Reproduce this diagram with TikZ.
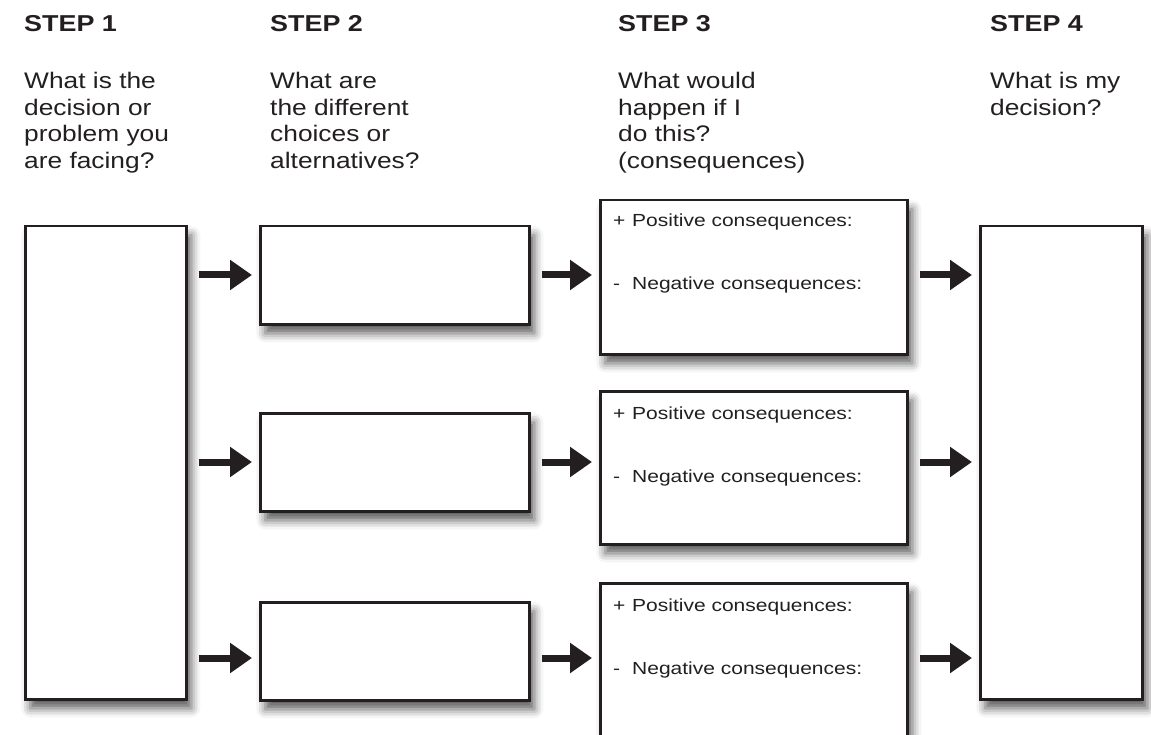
\documentclass[tikz,border=0pt]{standalone}
\usepackage{fontspec}
\setmainfont{Liberation Sans}
\newfontfamily\sheetfont[FakeStretch=1.17]{Liberation Sans}
\newfontfamily\notefont[FakeStretch=1.2]{Liberation Sans}
\usetikzlibrary{arrows.meta,positioning,shadows.blur}
\definecolor{ink}{HTML}{231F20}
\tikzset{
  dm/heading/.style={anchor=base west, inner sep=0pt, text=ink, font=\sheetfont\fontsize{23}{27}\selectfont\bfseries},
  dm/question/.style={inner sep=0pt, align=left, text=ink, font=\sheetfont\fontsize{22.5}{26.5}\selectfont},
  dm/box/.style={draw=ink, line width=2.5pt, fill=white, anchor=north west, inner sep=0pt,
    blur shadow={shadow xshift=5pt, shadow yshift=-9pt, shadow blur radius=9pt, shadow opacity=65}},
  dm/note/.style={anchor=base west, inner sep=0pt, text=ink, font=\notefont\fontsize{17.5}{21}\selectfont},
  dm/flow/.style={draw=ink, line width=7pt, -{Triangle[length=22pt, width=29pt]}, shorten <=11pt, shorten >=7pt}
}
\newcommand{\sign}[1]{\makebox[19pt][l]{#1}}

\begin{document}
\begin{tikzpicture}[x=1pt, y=-1pt]
  \useasboundingbox (0,0) rectangle (1151,735);

  % headings and questions
  \node[dm/heading] (st1) at (24,32) {STEP 1};
  \node[dm/heading] (st2) at (270,32) {STEP 2};
  \node[dm/heading] (st3) at (618,32) {STEP 3};
  \node[dm/heading] (st4) at (990,32) {STEP 4};
  \node[dm/question, below=40pt of st1.base west, anchor=north west] (q1) {What is the\\decision or\\problem you\\are facing?};
  \node[dm/question, below=40pt of st2.base west, anchor=north west] (q2) {What are\\the different\\choices or\\alternatives?};
  \node[dm/question, below=40pt of st3.base west, anchor=north west] (q3) {What would\\happen if I\\do this?\\(consequences)};
  \node[dm/question, below=40pt of st4.base west, anchor=north west] (q4) {What is my\\decision?};

  % boxes
  \node[dm/box, minimum width=161pt, minimum height=473pt] (prob) at (24,225) {};
  \node[dm/box, minimum width=269pt, minimum height=98pt] (ch1) at (259,225) {};
  \node[dm/box, minimum width=269pt, minimum height=98pt] (ch2) at (259,412) {};
  \node[dm/box, minimum width=269pt, minimum height=98pt] (ch3) at (259,601) {};
  \node[dm/box, minimum width=307pt, minimum height=154pt] (cq1) at (599,199) {};
  \node[dm/box, minimum width=307pt, minimum height=153pt] (cq2) at (599,390) {};
  \node[dm/box, minimum width=307pt, minimum height=175pt] (cq3) at (599,582) {};
  \node[dm/box, minimum width=162pt, minimum height=473pt] (dec) at (979,225) {};

  % consequence notes
  \node[dm/note, below right=28pt and 14pt of cq1.north west, anchor=base west] (pos1) {\sign{+}Positive consequences:};
  \node[dm/note, below=63pt of pos1.base west, anchor=base west] (neg1) {\sign{-}Negative consequences:};
  \node[dm/note, below right=29pt and 14pt of cq2.north west, anchor=base west] (pos2) {\sign{+}Positive consequences:};
  \node[dm/note, below=63pt of pos2.base west, anchor=base west] (neg2) {\sign{-}Negative consequences:};
  \node[dm/note, below right=29pt and 14pt of cq3.north west, anchor=base west] (pos3) {\sign{+}Positive consequences:};
  \node[dm/note, below=63pt of pos3.base west, anchor=base west] (neg3) {\sign{-}Negative consequences:};

  % arrows
  \coordinate (row1) at (0,275);
  \coordinate (row2) at (0,462);
  \coordinate (row3) at (0,658);
  \draw[dm/flow] (prob.east |- row1) -- (ch1.west |- row1);
  \draw[dm/flow] (prob.east |- row2) -- (ch2.west |- row2);
  \draw[dm/flow] (prob.east |- row3) -- (ch3.west |- row3);
  \draw[dm/flow] (ch1.east |- row1) -- (cq1.west |- row1);
  \draw[dm/flow] (ch2.east |- row2) -- (cq2.west |- row2);
  \draw[dm/flow] (ch3.east |- row3) -- (cq3.west |- row3);
  \draw[dm/flow] (cq1.east |- row1) -- (dec.west |- row1);
  \draw[dm/flow] (cq2.east |- row2) -- (dec.west |- row2);
  \draw[dm/flow] (cq3.east |- row3) -- (dec.west |- row3);
\end{tikzpicture}
\end{document}
